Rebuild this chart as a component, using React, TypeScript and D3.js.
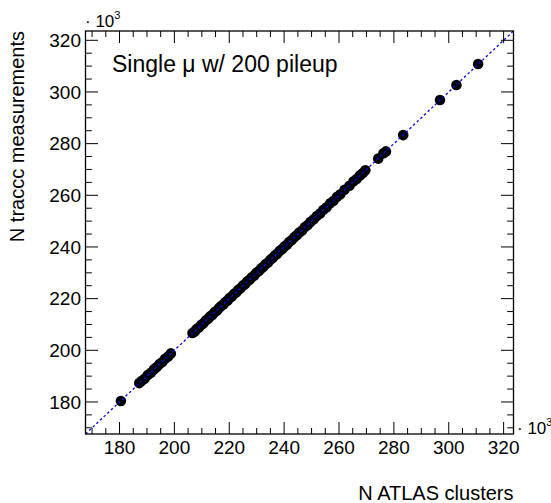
import React from "react";
import * as d3 from "d3";

// N ATLAS clusters (x 10^3)
const atlasClusters: number[] = [
  180.5,
  187.2, 188.0, 189.1, 190.3, 191.4, 192.5, 193.6, 194.6, 195.6, 196.6, 197.7, 198.7,
  206.6, 207.4, 208.1, 208.9, 209.8, 210.6, 211.5, 212.3, 213.0, 213.8, 214.7, 215.5,
  216.3, 217.0, 217.8, 218.6, 219.4, 220.1, 220.9, 221.8, 222.6, 223.3, 224.1, 225.0,
  225.8, 226.6, 227.4, 228.2, 229.1, 229.9, 230.8, 231.6, 232.4, 233.3, 234.1, 235.0,
  235.8, 236.7, 237.5, 238.4, 239.3, 240.1, 241.0, 241.9, 242.8, 243.7, 244.6, 245.5,
  246.5, 247.6, 248.6, 249.6, 250.8, 251.9, 253.1, 254.3, 255.5, 256.8, 258.0, 259.3,
  260.5, 262.0, 263.8, 265.3, 266.4, 267.6, 268.7, 269.6, 274.3, 276.2, 277.1, 283.4,
  296.8, 302.8, 310.7,
];
// N traccc measurements (x 10^3)
const tracccMeasurements: number[] = [
  180.4,
  187.3, 188.1, 189.0, 190.4, 191.3, 192.6, 193.5, 194.7, 195.5, 196.7, 197.6, 198.8,
  206.7, 207.3, 208.2, 208.8, 209.9, 210.5, 211.6, 212.2, 213.1, 213.7, 214.8, 215.4,
  216.4, 217.1, 217.7, 218.7, 219.3, 220.2, 220.8, 221.9, 222.5, 223.4, 224.0, 225.1,
  225.7, 226.7, 227.3, 228.3, 229.0, 230.0, 230.7, 231.7, 232.3, 233.4, 234.0, 235.1,
  235.7, 236.8, 237.4, 238.5, 239.2, 240.2, 240.9, 242.0, 242.7, 243.8, 244.5, 245.6,
  246.4, 247.7, 248.5, 249.7, 250.7, 252.0, 253.0, 254.4, 255.4, 256.9, 257.9, 259.4,
  260.4, 262.1, 263.7, 265.4, 266.3, 267.7, 268.6, 269.7, 274.2, 276.3, 277.0, 283.3,
  296.9, 302.7, 310.8,
];
const majorTicks: number[] = [180, 200, 220, 240, 260, 280, 300, 320];
const axisDomain: number[] = [167.6, 323.6];
const labelText = "Single \u03bc w/ 200 pileup";
const xTitle = "N ATLAS clusters";
const yTitle = "N traccc measurements";

export default function App() {
  const W = 551, H = 503;
  const L = 85.5, R = 513.5, T = 31, B = 434;
  const x = d3.scaleLinear().domain(axisDomain).range([L, R]);
  const y = d3.scaleLinear().domain(axisDomain).range([B, T]);
  const minorTicks = d3.range(170, 321, 5).filter((v) => v % 20 !== 0);
  const font = "'Liberation Sans', Arial, Helvetica, sans-serif";
  const pts = atlasClusters.map((v, i) => [v, tracccMeasurements[i]]);
  const xMaj = 12, xMin = 6, yMaj = 12.5, yMin = 6.3;

  return (
    <svg width={W} height={H} style={{ position: "absolute", left: 0, top: 0, background: "#fff" }} fontFamily={font}>
      <rect x={0} y={0} width={W} height={H} fill="#fff" />
      {/* points */}
      {pts.map(([a, b], i) => (
        <circle key={i} cx={x(a)} cy={y(b)} r={5.3} fill="#000" />
      ))}
      {/* diagonal y = x */}
      <line x1={x(axisDomain[0])} y1={y(axisDomain[0])} x2={x(axisDomain[1])} y2={y(axisDomain[1])}
        stroke="#0000ff" strokeWidth={1.3} strokeDasharray="2.5,2.5" />
      {/* frame */}
      <rect x={L} y={T} width={R - L} height={B - T} fill="none" stroke="#000" strokeWidth={1.3} />
      {/* x ticks */}
      {majorTicks.map((t) => (
        <g key={"xm" + t}>
          <line x1={x(t)} x2={x(t)} y1={B} y2={B - xMaj} stroke="#000" strokeWidth={1} />
          <line x1={x(t)} x2={x(t)} y1={T} y2={T + xMaj} stroke="#000" strokeWidth={1} />
          <text x={x(t)} y={454} textAnchor="middle" fontSize={19}>{t}</text>
        </g>
      ))}
      {minorTicks.map((t) => (
        <g key={"xn" + t}>
          <line x1={x(t)} x2={x(t)} y1={B} y2={B - xMin} stroke="#000" strokeWidth={1} />
          <line x1={x(t)} x2={x(t)} y1={T} y2={T + xMin} stroke="#000" strokeWidth={1} />
        </g>
      ))}
      {/* y ticks */}
      {majorTicks.map((t) => (
        <g key={"ym" + t}>
          <line x1={L} x2={L + yMaj} y1={y(t)} y2={y(t)} stroke="#000" strokeWidth={1} />
          <line x1={R} x2={R - yMaj} y1={y(t)} y2={y(t)} stroke="#000" strokeWidth={1} />
          <text x={81} y={y(t)} dy="0.35em" textAnchor="end" fontSize={19}>{t}</text>
        </g>
      ))}
      {minorTicks.map((t) => (
        <g key={"yn" + t}>
          <line x1={L} x2={L + yMin} y1={y(t)} y2={y(t)} stroke="#000" strokeWidth={1} />
          <line x1={R} x2={R - yMin} y1={y(t)} y2={y(t)} stroke="#000" strokeWidth={1} />
        </g>
      ))}
      {/* exponent labels */}
      <text x={85} y={27} fontSize={17}>
        {"\u00b7 10"}
        <tspan fontSize={11} dy={-8}>3</tspan>
      </text>
      <text x={517} y={434} fontSize={17}>
        {"\u00b7 10"}
        <tspan fontSize={11} dy={-8}>3</tspan>
      </text>
      {/* titles */}
      <text x={R} y={500} textAnchor="end" fontSize={20}>{xTitle}</text>
      <text transform={`translate(24,${T}) rotate(-90)`} textAnchor="end" fontSize={20}>{yTitle}</text>
      <text x={112} y={72} fontSize={23}>{labelText}</text>
    </svg>
  );
}
